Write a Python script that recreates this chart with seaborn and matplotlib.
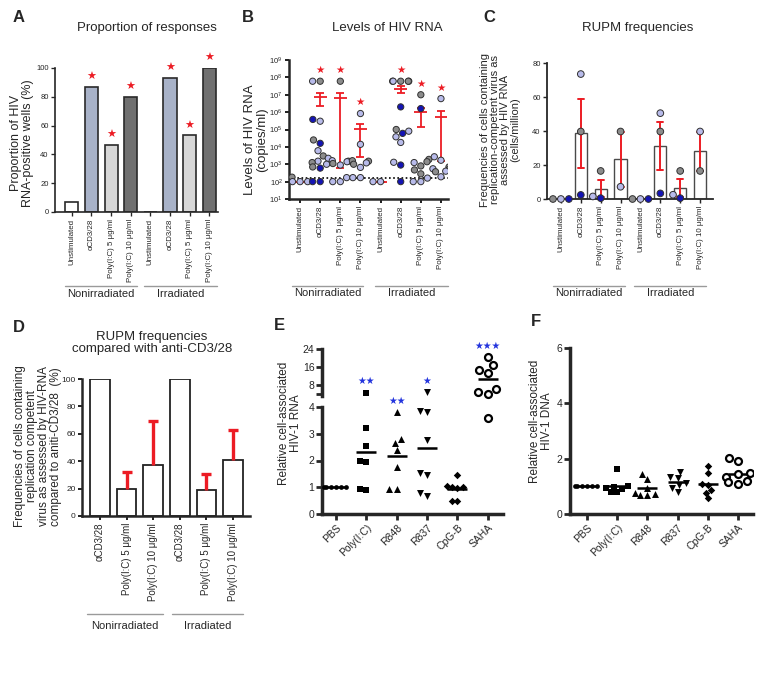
import numpy as np
import pandas as pd
import seaborn as sns
import matplotlib.pyplot as plt
from matplotlib.ticker import LogLocator, NullLocator

# ----------------------------------------
# Values
# ----------------------------------------

groups = ['Nonirradiated', 'Irradiated']
conditions = ['Unstimulated', 'αCD3/28', 'Poly(I:C) 5 μg/ml', 'Poly(I:C) 10 μg/ml']

# A: proportion of HIV RNA-positive wells (%)
a_pct = [6.7, 86.7, 46.7, 80.0, 0.0, 93.3, 53.3, 100.0]
a_signif = [0, 1, 1, 1, 0, 1, 1, 1]

# B: HIV RNA (copies/ml) per well; donor code per point (L light, G grey, B blue)
b_rna = [
    [180, 100, 100, 100],
    [6e7, 6e7, 3.8e5, 3e5, 2.5e4, 1.6e4, 6e3, 3e3, 2.2e3, 1.5e3, 1.25e3, 1e3, 7e2, 6e2, 100, 100],
    [6e7, 1.6e3, 1.5e3, 1.4e3, 1.1e3, 9e2, 1.7e2, 100, 100],
    [8.3e5, 1.4e4, 1.6e3, 1.5e3, 1.2e3, 1e3, 6.6e2, 1.7e2, 1.7e2],
    [100, 100],
    [6e7, 6e7, 6e7, 6e7, 6e7, 2e6, 1e5, 8e4, 6e4, 3.8e4, 1.8e4, 1.3e3, 9e2, 100],
    [1e7, 1.6e6, 1.9e3, 1.4e3, 1.25e3, 8e2, 4.7e2, 2.8e2, 1.6e2, 100, 100],
    [6e6, 2.7e3, 1.7e3, 7e2, 5.5e2, 5e2, 4e2, 3.7e2, 1.9e2],
]
b_donor = ['GLLL', 'LGBLGBLGLLGLGBBB', 'GLGLGLLLL', 'LLGGLGLLL',
           'LL', 'GGLGGBGLBLLLBB', 'GBGGLGGGLLL', 'LLLGLGLGL']
b_mean = [100, 7.5e6, 6.7e6, 1.1e5, 100, 2.2e7, 9.7e5, 5.5e5]
b_sem_lo = [100, 2.4e6, 6e2, 2.5e3, 100, 1.3e7, 1.4e5, 1.5e3]
b_sem_hi = [100, 1.3e7, 1.3e7, 2.2e5, 100, 3.0e7, 1.8e6, 1.1e6]
b_signif = [0, 1, 1, 1, 0, 1, 1, 1]
b_limit = 160

# C: RUPM (cells/million), one point per donor
c_rupm = [
    [0, 0, 0], [73.5, 39.7, 2.4], [16.5, 0.5, 1.5], [39.7, 7.2],
    [0, 0, 0], [50.5, 39.7, 3.3], [16.5, 0.5, 2.5], [39.7, 16.5],
]
c_donor = ['LGB', 'LGB', 'GBL', 'GL', 'LGB', 'LGB', 'GBL', 'LG']

# D: RUPM relative to anti-CD3/28 (%), mean and upper SEM
d_conditions = conditions[1:]
d_pct = [100, 20, 37, 100, 19, 41]
d_err = [0, 12, 32, 0, 12, 22]

# E, F: relative cell-associated HIV-1 RNA / DNA
treatments = ['PBS', 'Poly(I:C)', 'R848', 'R837', 'CpG-B', 'SAHA']
e_rna = [
    [1, 1, 1, 1, 1, 1],
    [4.6, 3.22, 2.54, 2.0, 1.95, 0.88, 0.93],
    [3.8, 2.8, 2.65, 2.4, 1.75, 0.93, 0.93],
    [4.8, 3.85, 3.8, 2.76, 1.55, 1.45, 0.67, 0.78],
    [1.47, 1.05, 1.02, 1.0, 0.98, 0.5, 0.48],
    [20.3, 16.9, 13.6, 14.7, 4.8, 4.3, 6.1, 3.6],
]
e_stars = ['', '★★', '★★', '★', '', '★★★']
f_dna = [
    [1, 1, 1, 1, 1, 1],
    [1.62, 1.0, 0.97, 0.93, 0.9, 0.78, 0.78],
    [1.45, 1.28, 0.95, 0.75, 0.72, 0.7, 0.7],
    [1.53, 1.35, 1.3, 1.12, 1.05, 0.95, 0.78],
    [1.73, 1.49, 1.1, 1.05, 0.87, 0.77, 0.59],
    [2.02, 1.9, 1.5, 1.45, 1.35, 1.2, 1.15, 1.1],
]

# ----------------------------------------
# Styling
# ----------------------------------------

sns.set_theme(style='ticks')
plt.rcParams['font.family'] = ['Liberation Sans', 'DejaVu Sans']
plt.rcParams['axes.linewidth'] = 1.2

RED = '#ec1c24'
STAR_BLUE = '#2233dd'
donor_colors = {'L': '#b8bbea', 'G': '#8c8c8c', 'B': '#1414b4'}
bar_colors = ['white', '#a8b2c8', '#d7d7d7', '#707070'] * 2
e_markers = ['o', 's', '^', 'v', 'D', 'o']
e_sizes = [3.4, 4.3, 5.0, 5.0, 3.8, 5.0]

cat_keys = [f'{g} {c}' for g in groups for c in conditions]
cat_labels = conditions * 2
d_keys = [f'{g} {c}' for g in groups for c in d_conditions]

W, H = 784, 679
fig = plt.figure(figsize=(W / 100, H / 100), dpi=100)


def axes_px(left, top, right, bottom):
    return fig.add_axes([left / W, 1 - bottom / H, (right - left) / W, (bottom - top) / H])


def fig_text(x, y, s, **kw):
    fig.text(x / W, 1 - y / H, s, ha='center', va='center', **kw)


def group_bracket(ax, spans, y_line, y_text):
    tr = ax.get_xaxis_transform()
    for (x0, x1), name in zip(spans, groups):
        ax.plot([x0, x1], [y_line, y_line], transform=tr, color='#9a9a9a',
                lw=1, clip_on=False)
        ax.text((x0 + x1) / 2, y_text, name, transform=tr, ha='center',
                va='center', fontsize=8)


def style_axes(ax, lw, ylab_size, xlab_size, xrot=90):
    sns.despine(ax=ax)
    for side in ['left', 'bottom']:
        ax.spines[side].set_linewidth(lw)
    ax.tick_params(axis='y', length=3, width=lw * 0.8, labelsize=ylab_size, pad=1.5)
    ax.tick_params(axis='x', length=3, width=lw * 0.8, labelsize=xlab_size, pad=2,
                   labelrotation=xrot)
    ax.set_xlabel('')


# ----------------------------------------
# A: proportion of responses
# ----------------------------------------

axA = axes_px(55, 68, 218, 212)
sns.barplot(x=cat_keys, y=a_pct, hue=cat_keys, palette=bar_colors, legend=False,
            saturation=1, width=0.67, edgecolor='#2a2a2a', linewidth=1.2, ax=axA)
for i, (v, s) in enumerate(zip(a_pct, a_signif)):
    if s:
        axA.annotate('★', (i, v), xytext=(0, 7), textcoords='offset points',
                     ha='center', va='center', color=RED, fontsize=8)
axA.set_xlim(-0.86, 7.45)
axA.set_ylim(0, 100)
axA.set_yticks(range(0, 101, 20))
axA.set_xticks(range(8))
axA.set_xticklabels(cat_labels)
style_axes(axA, 1.2, 5.5, 5.7)
axA.set_ylabel('Proportion of HIV\nRNA-positive wells (%)', fontsize=9, linespacing=1.0)
axA.yaxis.set_label_coords(-0.13, 0.48)
group_bracket(axA, [(-0.35, 3.3), (3.7, 7.4)], -0.514, -0.566)

# ----------------------------------------
# B: levels of HIV RNA
# ----------------------------------------

df_b = pd.DataFrame({
    'cat': [k for k, vals in zip(cat_keys, b_rna) for _ in vals],
    'rna': [v for vals in b_rna for v in vals],
    'donor': list(''.join(b_donor)),
})
axB = axes_px(289, 60, 448, 199)
axB.set_yscale('log')
xb = np.arange(len(cat_keys))
mean = np.array(b_mean)
axB.axhline(b_limit, ls=(0, (1, 1.5)), color='black', lw=1.2, zorder=1)
axB.errorbar(xb, mean, yerr=[mean - np.array(b_sem_lo), np.array(b_sem_hi) - mean],
             fmt='none', ecolor=RED, elinewidth=1.3, capsize=3.2, capthick=1.3, zorder=2)
axB.hlines(mean, xb - 0.32, xb + 0.32, color=RED, lw=1.3, zorder=2)
sns.swarmplot(data=df_b, x='cat', y='rna', hue='donor', order=cat_keys,
              palette=donor_colors, size=4.5, edgecolor='#303030', linewidth=0.7,
              legend=False, warn_thresh=1, ax=axB, zorder=3)
for i, (vals, s) in enumerate(zip(b_rna, b_signif)):
    if s:
        axB.annotate('★', (i, max(vals)), xytext=(0, 8), textcoords='offset points',
                     ha='center', va='center', color=RED, fontsize=7.5)
axB.set_ylim(10, 1e9)
axB.yaxis.set_major_locator(LogLocator(base=10, numticks=12))
axB.yaxis.set_minor_locator(NullLocator())
axB.set_xlim(-0.55, 7.35)
axB.set_xticks(range(8))
axB.set_xticklabels(cat_labels)
style_axes(axB, 1.8, 5.5, 5.7)
axB.set_ylabel('Levels of HIV RNA\n(copies/ml)', fontsize=9.5, linespacing=1.0)
axB.yaxis.set_label_coords(-0.132, 0.43)
group_bracket(axB, [(-0.4, 3.13), (3.73, 7.36)], -0.626, -0.676)

# ----------------------------------------
# C: RUPM frequencies
# ----------------------------------------

df_c = pd.DataFrame({
    'cat': [k for k, vals in zip(cat_keys, c_rupm) for _ in vals],
    'rupm': [v for vals in c_rupm for v in vals],
    'donor': list(''.join(c_donor)),
})
axC = axes_px(547, 63, 713, 199)
sns.barplot(data=df_c, x='cat', y='rupm', order=cat_keys, errorbar='se',
            color='white', saturation=1, edgecolor='#4a4a4a', linewidth=1.0,
            width=0.62, capsize=0.3, err_kws={'color': RED, 'linewidth': 1.4}, ax=axC)
sns.swarmplot(data=df_c, x='cat', y='rupm', hue='donor', order=cat_keys,
              palette=donor_colors, size=4.8, edgecolor='#303030', linewidth=0.7,
              legend=False, warn_thresh=1, ax=axC, zorder=3)
for coll in axC.collections:
    coll.set_clip_on(False)
axC.set_ylim(0, 80)
axC.set_yticks(range(0, 81, 20))
axC.set_xlim(-0.7, 7.65)
axC.set_xticks(range(8))
axC.set_xticklabels(cat_labels)
style_axes(axC, 1.3, 5.5, 5.7)
axC.set_ylabel('Frequencies of cells containing\nreplication-competent virus as\n'
               'assessed by HIV RNA\n(cells/million)', fontsize=8, linespacing=1.0)
axC.yaxis.set_label_coords(-0.163, 0.51)
group_bracket(axC, [(-0.4, 3.2), (3.7, 7.3)], -0.64, -0.69)

# ----------------------------------------
# D: RUPM relative to anti-CD3/28
# ----------------------------------------

axD = axes_px(82, 379, 250, 516)
sns.barplot(x=d_keys, y=d_pct, color='white', saturation=1, width=0.74,
            edgecolor='#222222', linewidth=1.3, ax=axD)
for i, (v, e) in enumerate(zip(d_pct, d_err)):
    if e > 0:
        axD.vlines(i, v, v + e, color=RED, lw=2.4, zorder=1)
        axD.hlines(v + e, i - 0.19, i + 0.19, color=RED, lw=2.4, zorder=1)
axD.set_ylim(0, 100)
axD.set_yticks(range(0, 101, 20))
axD.set_xlim(-0.68, 5.64)
axD.set_xticks(range(6))
axD.set_xticklabels(d_conditions * 2)
style_axes(axD, 1.8, 6, 7)
axD.set_ylabel('Frequencies of cells containing\nreplication competent\n'
               'virus as assessed by HIV-RNA\ncompared to aniti-CD3/28  (%)',
               fontsize=8.5, linespacing=1.0)
axD.yaxis.set_label_coords(-0.118, 0.51)
group_bracket(axD, [(-0.49, 2.37), (2.7, 5.37)], -0.715, -0.80)

# ----------------------------------------
# E: cell-associated HIV-1 RNA (broken axis)
# ----------------------------------------

axE = axes_px(322, 407, 503, 514)
axEu = axes_px(322, 349, 503, 396)
e_long_x = [t for t, vals in zip(treatments, e_rna) for _ in vals]
e_long_y = [v for vals in e_rna for v in vals]

for ax, keep in [(axE, lambda v: v < 4), (axEu, lambda v: v >= 4)]:
    for t, vals, m, s in zip(treatments, e_rna, e_markers, e_sizes):
        part = [v for v in vals if keep(v)]
        if not part:
            continue
        open_marker = t == 'SAHA'
        sns.swarmplot(x=[t] * len(part), y=part, order=treatments, marker=m, size=s,
                      color='white' if open_marker else 'black', edgecolor='black',
                      linewidth=1.6 if open_marker else 0, warn_thresh=1, ax=ax)
    sns.pointplot(x=e_long_x, y=e_long_y, order=treatments, errorbar=None,
                  color='black', marker='_', markersize=15, markeredgewidth=1.8,
                  linestyle='none', ax=ax)
    for coll in ax.collections:
        coll.set_clip_on(False)

for i, (vals, st) in enumerate(zip(e_rna, e_stars)):
    if st:
        top = max(vals)
        ax = axE if top < 4 else axEu
        ax.annotate(st, (i, top), xytext=(0, 8.5), textcoords='offset points',
                    ha='center', va='center', color=STAR_BLUE, fontsize=7)

axE.set_ylim(0, 4)
axE.set_yticks(range(0, 5))
axE.set_xlim(-0.46, 5.5)
axE.set_xticks(range(6))
axE.set_xticklabels(treatments, rotation=45, ha='right', rotation_mode='anchor')
style_axes(axE, 2.5, 7.5, 7.5, xrot=45)
axE.tick_params(axis='both', length=4, width=2)

axEu.set_ylim(3.2, 24)
axEu.set_yticks([4, 8, 16, 24])
axEu.set_yticklabels(['', '8', '16', '24'])
axEu.set_xlim(-0.46, 5.5)
sns.despine(ax=axEu, bottom=True)
axEu.spines['left'].set_linewidth(2.5)
axEu.tick_params(axis='y', length=4, width=2, labelsize=7.5, pad=1.5)
axEu.tick_params(axis='x', bottom=False, labelbottom=False)
axEu.set_xlabel('')
axEu.patch.set_alpha(0)

axE.set_ylabel('Relative cell-associated\nHIV-1 RNA', fontsize=8.5, linespacing=1.0)
axE.yaxis.set_label_coords(-0.11, 0.85)

# ----------------------------------------
# F: cell-associated HIV-1 DNA
# ----------------------------------------

axF = axes_px(570, 348, 753, 514)
for t, vals, m, s in zip(treatments, f_dna, e_markers, e_sizes):
    open_marker = t == 'SAHA'
    sns.swarmplot(x=[t] * len(vals), y=vals, order=treatments, marker=m, size=s,
                  color='white' if open_marker else 'black', edgecolor='black',
                  linewidth=1.6 if open_marker else 0, warn_thresh=1, ax=axF)
sns.pointplot(x=[t for t, vals in zip(treatments, f_dna) for _ in vals],
              y=[v for vals in f_dna for v in vals], order=treatments, errorbar=None,
              color='black', marker='_', markersize=15, markeredgewidth=1.8,
              linestyle='none', ax=axF)
axF.set_ylim(0, 6)
axF.set_yticks([0, 2, 4, 6])
axF.set_xlim(-0.56, 5.5)
axF.set_xticks(range(6))
axF.set_xticklabels(treatments, rotation=45, ha='right', rotation_mode='anchor')
style_axes(axF, 2.5, 7.5, 7.5, xrot=45)
axF.tick_params(axis='both', length=4, width=2)
axF.set_ylabel('Relative cell-associated\nHIV-1 DNA', fontsize=8.5, linespacing=1.0)
axF.yaxis.set_label_coords(-0.093, 0.56)

# ----------------------------------------
# Titles and panel letters
# ----------------------------------------

fig_text(147, 28, 'Proportion of responses', fontsize=9.5)
fig_text(387, 28, 'Levels of HIV RNA', fontsize=9.5)
fig_text(638, 28, 'RUPM frequencies', fontsize=9.5)
fig_text(152, 343, 'RUPM frequencies\ncompared with anti-CD3/28', fontsize=9.5,
         linespacing=1.0)

for letter, x, y in [('A', 19, 17), ('B', 248, 17), ('C', 489, 18),
                     ('D', 19, 327), ('E', 279, 325), ('F', 536, 322)]:
    fig_text(x, y, letter, fontsize=12, fontweight='bold')

fig.savefig('out.png', dpi=100)
